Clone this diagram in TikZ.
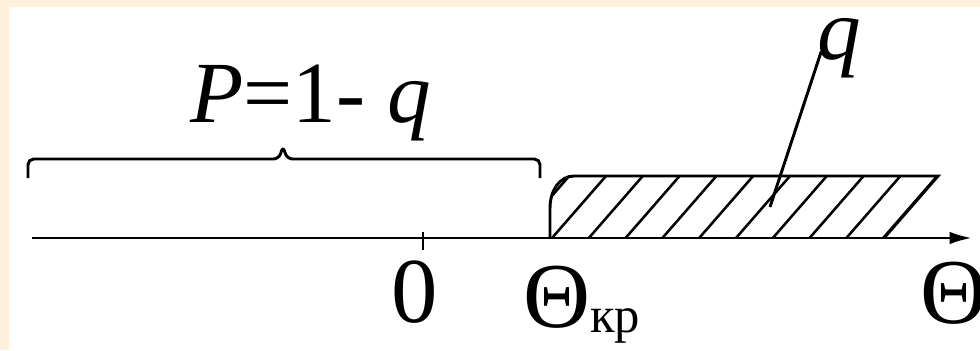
\documentclass[tikz,border=0pt]{standalone}
\usepackage{fontspec}
\setmainfont{Liberation Serif}
\usepackage{tikz}
\usetikzlibrary{arrows.meta}
\definecolor{cream}{RGB}{253,241,220}

\begin{document}
\begin{tikzpicture}[x=0.025cm,y=0.025cm,
  every node/.style={inner sep=0pt,font=\fontsize{62}{62}\selectfont},
  bigger/.style={font=\fontsize{66}{66}\selectfont},
  axisline/.style={line width=2.1pt},
  hatchline/.style={line width=1.8pt}]
\useasboundingbox (0,0) rectangle (980,350);
% Frame
\fill[cream] (0,0) rectangle (980,350);
\fill[white] (9,0) rectangle (980,343);

% Axis with tick at zero
\coordinate (axl) at (32,112);
\coordinate (axr) at (972,112);
\coordinate (orig) at (423,112);
\draw[axisline,-{Latex[length=16pt,width=9pt]}] (axl) -- (axr);
\draw[axisline] (orig) ++(0,6) -- ++(0,-18);

% Labels under the axis
\node[bigger,anchor=base] (zero) at (415,28) {0};
\node[bigger,anchor=base west] (thkr) at (523,23)
  {Θ\raisebox{-3.6pt}{\fontsize{36}{36}\selectfont кр}};
\node[bigger,anchor=base west] (th) at (920,27) {Θ};

% Hatched region
\begin{scope}
  \clip (550,112) -- (550,142) .. controls (550,160) and (560,174) .. (574,174)
    -- (938,174) -- (884,112) -- cycle;
  \foreach \k in {-1,...,9}
    \draw[hatchline] (552+36.8*\k,112) -- ++(54,62);
\end{scope}
\draw[axisline] (550,112) -- (550,142) .. controls (550,160) and (560,174) .. (574,174)
  -- (938,174) -- (884,112);

% Bracket and its label
\coordinate (bl) at (28,172);
\coordinate (br) at (540,172);
\draw[axisline,rounded corners=4pt] (bl) -- ++(0,19) -- (279,191) -- (283,204)
  -- (287,191) -- (540,191) -- (br);
\node[anchor=base west] (plbl) at (190,228) {\textit{P}=1- \textit{q}};

% Label of the hatched region
\node[anchor=base west] (qlbl) at (817,290) {\textit{q}};
\coordinate (qfoot) at (770,143);
\draw[axisline] ([xshift=3pt,yshift=-2pt]qlbl.west) -- (qfoot);
\end{tikzpicture}
\end{document}
